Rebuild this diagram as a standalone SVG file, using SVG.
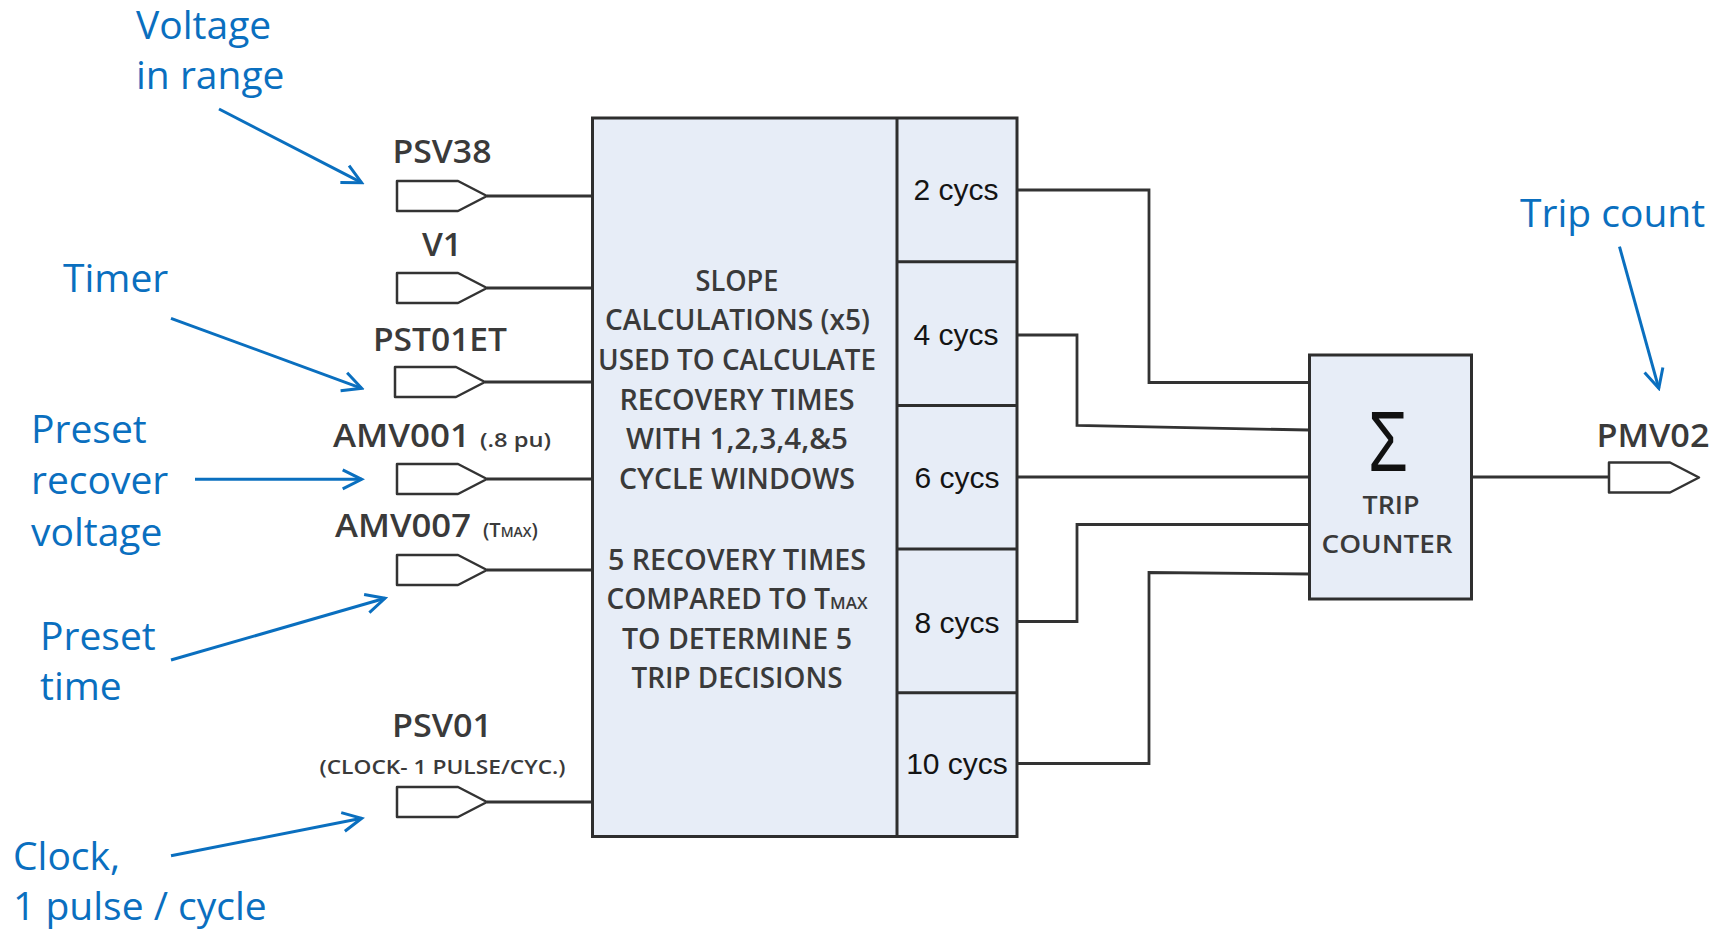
<svg xmlns="http://www.w3.org/2000/svg" width="1725" height="931" viewBox="0 0 1725 931">
<style>
.box{fill:#e7edf7;stroke:#2e2e2e;stroke-width:3}
.port{fill:#ffffff;stroke:#333333;stroke-width:2.5;stroke-linejoin:round}
.wire{fill:none;stroke:#333333;stroke-width:2.8}
.note{fill:none;stroke:#0a6fbf;stroke-width:3}
.lbl{font-family:"Open Sans","Liberation Sans",sans-serif;font-weight:600;fill:#3a3a3a}
.cyc{font-family:"Liberation Sans",Arial,sans-serif;font-size:30px;fill:#141414;text-anchor:middle}
.blk{font-family:"Open Sans","Liberation Sans",sans-serif;font-weight:600;font-size:28px;fill:#3a3a3a;text-anchor:middle}
.blue{font-family:"Open Sans","Liberation Sans",sans-serif;font-size:39px;fill:#0a6fbf}
</style>
<defs>
<path id="portShape" d="M0,-15 H61 L90,0 L61,15 H0 Z"/>
<marker id="open" markerUnits="userSpaceOnUse" markerWidth="26" markerHeight="26" viewBox="0 0 26 26" refX="23" refY="13" orient="auto">
<path d="M4,3.5 L23,13 L4,22.5" fill="none" stroke="#0a6fbf" stroke-width="3"/>
</marker>
</defs>
<rect width="1725" height="931" fill="#ffffff"/>

<g id="connectors">
<path class="wire" d="M487,196 H592"/>
<path class="wire" d="M487,288 H592"/>
<path class="wire" d="M485,382 H592"/>
<path class="wire" d="M487,479 H592"/>
<path class="wire" d="M487,570 H592"/>
<path class="wire" d="M487,802 H592"/>
<path class="wire" d="M1017,190 H1149 V382.5 H1309"/>
<path class="wire" d="M1017,335 H1077 V425.5 L1309,430"/>
<path class="wire" d="M1017,477 H1309"/>
<path class="wire" d="M1017,621.5 H1077 V524.5 H1309"/>
<path class="wire" d="M1017,763.5 H1149 V572.5 L1309,574"/>
<path class="wire" d="M1472,477 H1609"/>
</g>

<g id="callouts">
<path class="note" d="M219,109 L361.6,182.7" marker-end="url(#open)"/>
<path class="note" d="M171,318.3 L361.7,388.3" marker-end="url(#open)"/>
<path class="note" d="M195,479.3 L361.7,479.3" marker-end="url(#open)"/>
<path class="note" d="M171,660 L385,598.3" marker-end="url(#open)"/>
<path class="note" d="M171,855.7 L361.7,818.3" marker-end="url(#open)"/>
<path class="note" d="M1619.5,246.7 L1658.8,388.3" marker-end="url(#open)"/>
<text class="blue" x="136" y="39">Voltage</text>
<text class="blue" x="136" y="89">in range</text>
<text class="blue" x="63" y="292">Timer</text>
<text class="blue" x="31" y="443">Preset</text>
<text class="blue" x="31" y="494">recover</text>
<text class="blue" x="31" y="546">voltage</text>
<text class="blue" x="40" y="650">Preset</text>
<text class="blue" x="40" y="700">time</text>
<text class="blue" x="13" y="870">Clock,</text>
<text class="blue" x="13" y="920">1 pulse / cycle</text>
<text class="blue" x="1520" y="227">Trip count</text>
</g>

<g id="in-psv38">
<use href="#portShape" class="port" x="397" y="196"/>
<text class="lbl" x="442" y="163" font-size="33" text-anchor="middle" textLength="99" lengthAdjust="spacingAndGlyphs">PSV38</text>
</g>
<g id="in-v1">
<use href="#portShape" class="port" x="397" y="288"/>
<text class="lbl" x="442" y="256" font-size="33" text-anchor="middle" textLength="40" lengthAdjust="spacingAndGlyphs">V1</text>
</g>
<g id="in-pst01et">
<use href="#portShape" class="port" x="395" y="382"/>
<text class="lbl" x="440" y="351" font-size="33" text-anchor="middle" textLength="134" lengthAdjust="spacingAndGlyphs">PST01ET</text>
</g>
<g id="in-amv001">
<use href="#portShape" class="port" x="397" y="479"/>
<text class="lbl" x="333" y="447" font-size="33" textLength="137" lengthAdjust="spacingAndGlyphs">AMV001</text>
<text class="lbl" x="480" y="447" font-size="20" textLength="71" lengthAdjust="spacingAndGlyphs">(.8 pu)</text>
</g>
<g id="in-amv007">
<use href="#portShape" class="port" x="397" y="570"/>
<text class="lbl" x="335" y="537" font-size="33" textLength="136" lengthAdjust="spacingAndGlyphs">AMV007</text>
<text class="lbl" x="483" y="537" font-size="20">(T<tspan font-size="14">MAX</tspan>)</text>
</g>
<g id="in-psv01">
<use href="#portShape" class="port" x="397" y="802"/>
<text class="lbl" x="442" y="737" font-size="33" text-anchor="middle" textLength="100" lengthAdjust="spacingAndGlyphs">PSV01</text>
<text class="lbl" x="442.5" y="774" font-size="20" text-anchor="middle" textLength="246" lengthAdjust="spacingAndGlyphs">(CLOCK- 1 PULSE/CYC.)</text>
</g>

<g id="slope-block">
<rect class="box" x="592.5" y="118" width="424.5" height="718.5"/>
<path class="wire" d="M897,118 V836.5 M897,261.7 H1017 M897,405.4 H1017 M897,549 H1017 M897,692.8 H1017" style="stroke:#2e2e2e;stroke-width:3"/>
<text class="blk" x="737" y="290.5" textLength="83" lengthAdjust="spacingAndGlyphs">SLOPE</text>
<text class="blk" x="737.5" y="330" textLength="265" lengthAdjust="spacingAndGlyphs">CALCULATIONS (x5)</text>
<text class="blk" x="737" y="370" textLength="278" lengthAdjust="spacingAndGlyphs">USED TO CALCULATE</text>
<text class="blk" x="737" y="409.5" textLength="235" lengthAdjust="spacingAndGlyphs">RECOVERY TIMES</text>
<text class="blk" x="737" y="449" textLength="222" lengthAdjust="spacingAndGlyphs">WITH 1,2,3,4,&amp;5</text>
<text class="blk" x="737" y="489" textLength="236" lengthAdjust="spacingAndGlyphs">CYCLE WINDOWS</text>
<text class="blk" x="737" y="570" textLength="258" lengthAdjust="spacingAndGlyphs">5 RECOVERY TIMES</text>
<text class="blk" x="737" y="609">COMPARED TO T<tspan font-size="17">MAX</tspan></text>
<text class="blk" x="737" y="649" textLength="230" lengthAdjust="spacingAndGlyphs">TO DETERMINE 5</text>
<text class="blk" x="737" y="688" textLength="211" lengthAdjust="spacingAndGlyphs">TRIP DECISIONS</text>
<text class="cyc" x="956" y="200">2 cycs</text>
<text class="cyc" x="956" y="344.5">4 cycs</text>
<text class="cyc" x="957" y="488">6 cycs</text>
<text class="cyc" x="957" y="632.5">8 cycs</text>
<text class="cyc" x="957" y="774">10 cycs</text>
</g>

<g id="trip-counter">
<rect class="box" x="1309.5" y="355" width="162" height="244"/>
<text x="1388" y="471" font-family="Liberation Sans, Arial, sans-serif" font-size="86" fill="#111111" text-anchor="middle" textLength="40" lengthAdjust="spacingAndGlyphs">Σ</text>
<text class="lbl" x="1391" y="514" font-size="26" text-anchor="middle" textLength="57" lengthAdjust="spacingAndGlyphs">TRIP</text>
<text class="lbl" x="1387" y="553" font-size="26" text-anchor="middle" textLength="131" lengthAdjust="spacingAndGlyphs">COUNTER</text>
</g>

<g id="out-pmv02">
<use href="#portShape" class="port" x="1609" y="477.5"/>
<text class="lbl" x="1653" y="447" font-size="33" text-anchor="middle" textLength="113" lengthAdjust="spacingAndGlyphs">PMV02</text>
</g>
</svg>
